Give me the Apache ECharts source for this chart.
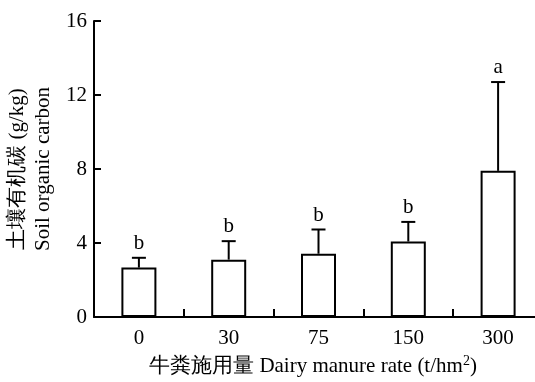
<!DOCTYPE html>
<html><head><meta charset="utf-8">
<script src="https://cdn.jsdelivr.net/npm/echarts@6/dist/echarts.min.js"></script>
<style>html,body{margin:0;padding:0;background:#fff;overflow:hidden}#c{width:543px;height:382px}</style>
</head><body><div id="c"></div>
<script>
const categories = ['0', '30', '75', '150', '300'];
const means = [2.67, 3.1, 3.42, 4.08, 7.9];
const errTops = [3.2, 4.1, 4.73, 5.14, 12.7];
const letters = ['b', 'b', 'b', 'b', 'a'];
const yTicks = [0, 4, 8, 12, 16];

const FONT = '"Liberation Serif","Times New Roman",serif';
const chart = echarts.init(document.getElementById('c'));
chart.setOption({
  animation: false,
  grid: {left: 94, top: 21, right: 0, bottom: 65},
  xAxis: {
    type: 'category', data: categories,
    axisLine: {show: true, lineStyle: {color: '#000', width: 2}},
    axisTick: {show: true, inside: true, length: 8, lineStyle: {color: '#000', width: 2}},
    axisLabel: {color: '#000', fontFamily: FONT, fontSize: 21, margin: 11}
  },
  yAxis: {
    type: 'value', min: yTicks[0], max: yTicks[yTicks.length - 1], interval: 4,
    splitLine: {show: false},
    axisLine: {show: true, lineStyle: {color: '#000', width: 2}},
    axisTick: {show: true, inside: true, length: 7, lineStyle: {color: '#000', width: 2}},
    axisLabel: {color: '#000', fontFamily: FONT, fontSize: 21, margin: 7}
  },
  graphic: [
    {type: 'text', x: 30, y: 169, rotation: Math.PI / 2,
     style: {text: '土壤有机碳 (g/kg)\nSoil organic carbon', fill: '#000', font: '21px ' + FONT,
             align: 'center', verticalAlign: 'middle', lineHeight: 26}},
    {type: 'text', x: 313, y: 366,
     style: {text: '{a|牛粪施用量 Dairy manure rate (t/hm}{s|2}{a|)}', align: 'center', verticalAlign: 'middle',
             rich: {a: {fontFamily: FONT, fontSize: 21, color: '#000'},
                    s: {fontFamily: FONT, fontSize: 14, color: '#000', verticalAlign: 'top', padding: [0, 0, 10, 0]}}}}
  ],
  series: [
    {type: 'bar', data: means, barWidth: 35,
     itemStyle: {color: '#fff', borderColor: '#000', borderWidth: 2}},
    {type: 'custom', data: means.map((m, i) => [i, m, errTops[i]]),
     encode: {x: 0, y: 2},
     renderItem: function (params, api) {
       const i = api.value(0);
       const p0 = api.coord([i, api.value(1)]);
       const p1 = api.coord([i, api.value(2)]);
       const hw = 7;
       return {type: 'group', children: [
         {type: 'line', shape: {x1: p0[0], y1: p0[1], x2: p1[0], y2: p1[1]}, style: {stroke: '#000', lineWidth: 2}},
         {type: 'line', shape: {x1: p1[0] - hw, y1: p1[1], x2: p1[0] + hw, y2: p1[1]}, style: {stroke: '#000', lineWidth: 2}},
         {type: 'text', x: p1[0], y: p1[1] - 4,
          style: {text: letters[i], fill: '#000', font: '21px ' + FONT, align: 'center', verticalAlign: 'bottom'}}
       ]};
     }}
  ]
});
</script></body></html>
